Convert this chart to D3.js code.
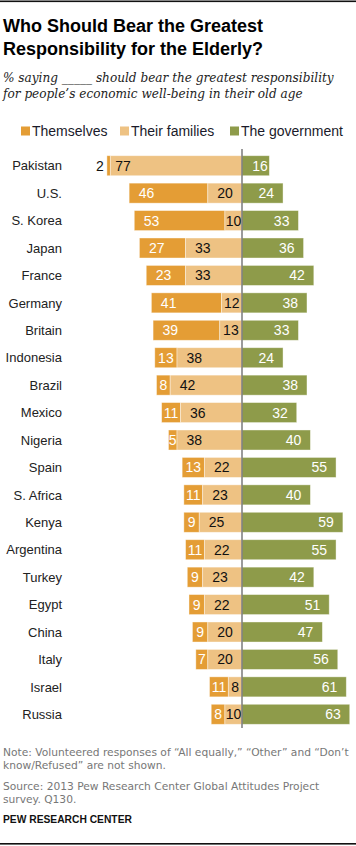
<!DOCTYPE html>
<html><head><meta charset="utf-8">
<script src="https://cdn.jsdelivr.net/npm/d3@7"></script>
<style>
html,body{margin:0;padding:0;background:#fff;}
svg{display:block;}
</style></head>
<body>
<script>
const countries = ["Pakistan","U.S.","S. Korea","Japan","France","Germany","Britain","Indonesia","Brazil","Mexico","Nigeria","Spain","S. Africa","Kenya","Argentina","Turkey","Egypt","China","Italy","Israel","Russia"];
const themselves = [2,46,53,27,23,41,39,13,8,11,5,13,11,9,11,9,9,9,7,11,8];
const families   = [77,20,10,33,33,12,13,38,42,36,38,22,23,25,22,23,22,20,20,8,10];
const government = [16,24,33,36,42,38,33,24,38,32,40,55,40,59,55,42,51,47,56,61,63];
const seriesNames = ["Themselves","Their families","The government"];
const colors = ["#E49D35","#EEC283","#8E9B4A"];

const title = ["Who Should Bear the Greatest","Responsibility for the Elderly?"];
const subtitle = ["% saying _____ should bear the greatest responsibility","for people\u2019s economic well-being in their old age"];
const note = ["Note: Volunteered responses of \u201cAll equally,\u201d \u201cOther\u201d and \u201cDon\u2019t","know/Refused\u201d are not shown."];
const source = ["Source: 2013 Pew Research Center Global Attitudes Project","survey. Q130."];
const credit = "PEW RESEARCH CENTER";

const W = 356, H = 846;
const svg = d3.select("body").append("svg").attr("width", W).attr("height", H);

// rules
svg.append("rect").attr("x",0).attr("y",0.5).attr("width",W).attr("height",1.6).attr("fill","#111");
svg.append("rect").attr("x",0).attr("y",843).attr("width",W).attr("height",1.6).attr("fill","#111");

function fit(sel, target){
  const n = sel.node();
  let fs = parseFloat(sel.attr("font-size"));
  const w = n.getComputedTextLength();
  if (w > 0) sel.attr("font-size", (fs * target / w).toFixed(2));
  return +sel.attr("font-size");
}

// title
const tt = svg.append("text").attr("font-family","'Liberation Sans', Arial, sans-serif")
  .attr("font-weight","bold").attr("font-size",18).attr("fill","#000");
title.forEach((t,i)=> tt.append("tspan").attr("x",3).attr("y",32 + i*23).text(t));

// subtitle
const s0 = svg.append("text").attr("x",3).attr("y",82).attr("font-family","'DejaVu Serif', Georgia, serif")
  .attr("font-style","italic").attr("font-size",12).attr("fill","#222").text(subtitle[0]);
const sfs = fit(s0, 331);
svg.append("text").attr("x",3).attr("y",98).attr("font-family","'DejaVu Serif', Georgia, serif")
  .attr("font-style","italic").attr("font-size",sfs).attr("fill","#222").text(subtitle[1]);

// legend
const legX = [21,120,230];
const lg = svg.append("g");
seriesNames.forEach((s,i)=>{
  lg.append("rect").attr("x",legX[i]).attr("y",126.5).attr("width",9).attr("height",9).attr("fill",colors[i]);
  lg.append("text").attr("x",legX[i]+11).attr("y",131).attr("dy","0.36em")
    .attr("font-family","'Liberation Sans', Arial, sans-serif").attr("font-size",14).attr("fill","#1a1a2a").text(s);
});

// scales
const cx = 242;
const x = d3.scaleLinear().domain([0,100]).range([0,171]);
const y = d3.scaleBand().domain(countries).range([152,728]).paddingInner(0.27).paddingOuter(0.135);
const bh = y.bandwidth();

const data = countries.map((c,i)=>({c, t:themselves[i], f:families[i], g:government[i]}));

const rows = svg.append("g").selectAll("g").data(data).join("g")
  .attr("transform", d=>`translate(0,${y(d.c)})`);

// country labels
rows.append("text").attr("x",62).attr("y",bh/2).attr("dy","0.36em").attr("text-anchor","end")
  .attr("font-family","'Liberation Sans', Arial, sans-serif").attr("font-size",13).attr("fill","#222")
  .text(d=>d.c);

const fontV = "'Liberation Sans', Arial, sans-serif";
// themselves segment
rows.append("rect").attr("x",d=>cx - x(d.f) - x(d.t)).attr("width",d=>x(d.t)).attr("y",0).attr("height",bh)
  .attr("fill",colors[0]).attr("stroke","#fff").attr("stroke-opacity",0.5).attr("stroke-width",0.8);
// families segment
rows.append("rect").attr("x",d=>cx - x(d.f)).attr("width",d=>x(d.f)).attr("y",0).attr("height",bh)
  .attr("fill",colors[1]).attr("stroke","#fff").attr("stroke-opacity",0.5).attr("stroke-width",0.8);
// government segment
rows.append("rect").attr("x",cx).attr("width",d=>x(d.g)).attr("y",0).attr("height",bh)
  .attr("fill",colors[2]).attr("stroke","#fff").attr("stroke-opacity",0.5).attr("stroke-width",0.8);

// labels
rows.each(function(d){
  const g = d3.select(this);
  const tw = x(d.t), fw = x(d.f), gw = x(d.g);
  const tStart = cx - fw - tw, fStart = cx - fw;
  // themselves
  const tl = g.append("text").attr("y",bh/2).attr("dy","0.36em").attr("font-family",fontV).attr("font-size",14).text(d.t);
  const tlen = tl.node().getComputedTextLength();
  const outside = tw < 5;
  if (outside) { tl.attr("x",tStart-3).attr("text-anchor","end").attr("fill","#111"); }
  else if (tw > 30) { tl.attr("x",tStart+9.5).attr("fill","#fff"); }
  else { tl.attr("x",tStart + (tw - tlen)/2).attr("fill","#fff"); }
  // families
  const fl = g.append("text").attr("y",bh/2).attr("dy","0.36em").attr("font-family",fontV).attr("font-size",14).attr("fill","#111").text(d.f);
  const flen = fl.node().getComputedTextLength();
  if (fw > 30) fl.attr("x", fStart + (outside ? 5 : 9.5));
  else fl.attr("x", fStart + (fw - flen)/2);
  // government
  const gl = g.append("text").attr("y",bh/2).attr("dy","0.36em").attr("font-family",fontV).attr("font-size",14).attr("fill","#fff").attr("text-anchor","end").text(d.g);
  gl.attr("x", gw > 30 ? cx + gw - 9 : cx + gw - 1.5);
});

// center axis line
svg.append("line").attr("x1",cx).attr("x2",cx).attr("y1",149).attr("y2",728)
  .attr("stroke","#7a7a7a").attr("stroke-width",1.5);

// note / source
const noteFont = "'DejaVu Sans', Verdana, sans-serif";
const n0 = svg.append("text").attr("x",3).attr("y",756).attr("font-family",noteFont).attr("font-size",11).attr("fill","#777").text(note[0]);
const nfs = fit(n0, 346);
svg.append("text").attr("x",3).attr("y",769).attr("font-family",noteFont).attr("font-size",nfs).attr("fill","#777").text(note[1]);
svg.append("text").attr("x",3).attr("y",790).attr("font-family",noteFont).attr("font-size",nfs).attr("fill","#777").text(source[0]);
svg.append("text").attr("x",3).attr("y",803).attr("font-family",noteFont).attr("font-size",nfs).attr("fill","#777").text(source[1]);
const cr = svg.append("text").attr("x",3).attr("y",823).attr("font-family","'Liberation Sans', Arial, sans-serif")
  .attr("font-weight","bold").attr("font-size",11).attr("fill","#111").text(credit);
fit(cr, 129);
</script>
</body></html>
